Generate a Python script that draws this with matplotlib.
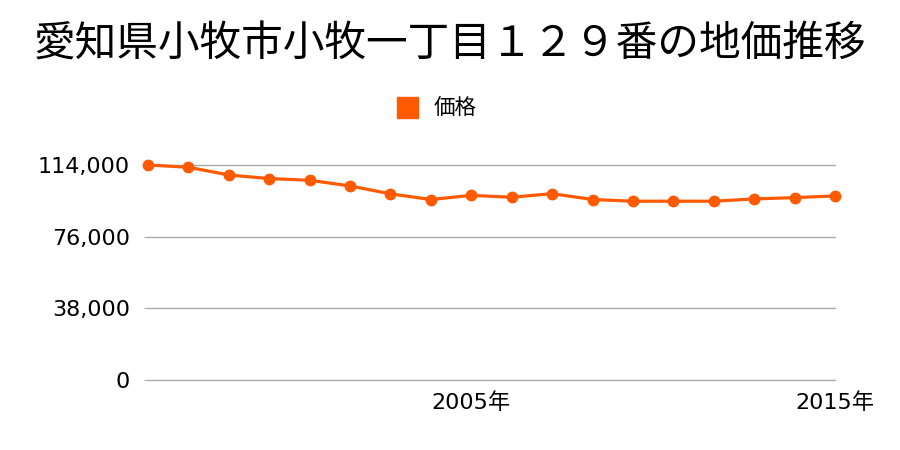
import matplotlib
matplotlib.use("Agg")
import matplotlib.pyplot as plt
from matplotlib.patches import Rectangle

plt.rcParams['font.family'] = ['Noto Sans CJK JP', 'DejaVu Sans']

title = "愛知県小牧市小牧一丁目１２９番の地価推移"
series_name = "価格"
years = [1997, 1998, 1999, 2000, 2001, 2002, 2003, 2004, 2005,
         2007, 2008, 2009, 2010, 2011, 2012, 2013, 2014, 2015]
prices = [114000, 112800, 108700, 106800, 105900, 102900, 98700, 95700, 97900,
          96900, 98800, 95700, 94800, 94800, 94800, 96000, 96700, 97600]
yticks = [0, 38000, 76000, 114000]
xtick_years = [2005, 2015]

color = "#FF5A00"
tick_fam = ['DejaVu Sans', 'Noto Sans CJK JP']

fig = plt.figure(figsize=(9, 4.5), dpi=100)
ax = fig.add_axes([148/900, 1-380/450, (835-148)/900, (380-165)/450])

xs = list(range(len(years)))
ax.plot(xs, prices, color=color, lw=2.3, marker='o', ms=7.5, clip_on=False, zorder=3)

ax.set_xlim(0, len(years)-1)
ax.set_ylim(0, 114000)
ax.set_yticks(yticks)
ax.set_yticklabels([f"{v:,}" for v in yticks], family=tick_fam, fontsize=16)
ax.set_xticks([years.index(y) for y in xtick_years])
ax.set_xticklabels([f"{y}年" for y in xtick_years], family=tick_fam, fontsize=16)
for v in yticks:
    ax.axhline(v, color='#aaaaaa', lw=1, clip_on=False, zorder=1)
for s in ax.spines.values():
    s.set_visible(False)
ax.tick_params(axis='y', length=3, color='#aaaaaa', pad=10)
ax.tick_params(axis='x', length=0, pad=9)

fig.text(0.5, 1-45/450, title, ha='center', va='center', fontsize=30)
fig.patches.append(Rectangle((397/900, 1-118/450), 21/900, 21/450,
                             transform=fig.transFigure, color=color, figure=fig))
fig.text(434/900, 1-108/450, series_name, ha='left', va='center', fontsize=15.5)

fig.savefig("out.png", dpi=100)
